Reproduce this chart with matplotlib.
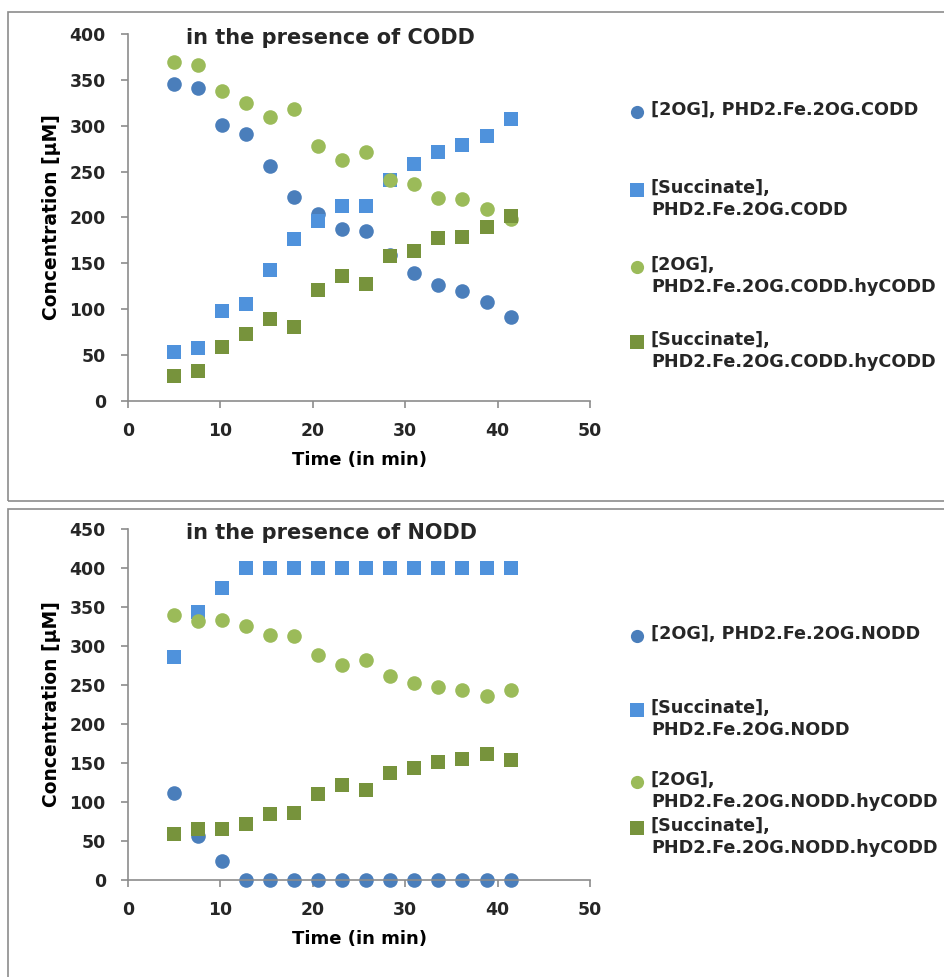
import matplotlib.pyplot as plt
from matplotlib.patches import Rectangle
from matplotlib.lines import Line2D

plt.rcParams['font.family'] = ['DejaVu Sans']
plt.rcParams['font.weight'] = 'bold'

# sampling times (min)
t = [5.0, 7.6, 10.2, 12.8, 15.4, 18.0, 20.6, 23.2, 25.8, 28.4, 31.0, 33.6, 36.2, 38.8, 41.4]

# CODD panel
codd_2og = [345, 341, 301, 291, 256, 222, 204, 187, 185, 159, 139, 126, 120, 108, 92]
codd_succ = [53, 58, 98, 106, 143, 177, 196, 212, 213, 241, 258, 271, 279, 289, 307]
codd_2og_hy = [370, 366, 338, 325, 310, 318, 278, 263, 271, 241, 236, 221, 220, 209, 198]
codd_succ_hy = [27, 33, 59, 73, 89, 81, 121, 136, 128, 158, 163, 178, 179, 190, 202]

# NODD panel
nodd_2og = [112, 56, 24, 0, 0, 0, 0, 0, 0, 0, 0, 0, 0, 0, 0]
nodd_succ = [286, 343, 375, 400, 400, 400, 400, 400, 400, 400, 400, 400, 400, 400, 400]
nodd_2og_hy = [340, 332, 333, 326, 314, 313, 289, 276, 282, 261, 253, 247, 244, 236, 243]
nodd_succ_hy = [59, 66, 65, 72, 84, 86, 110, 122, 116, 137, 144, 151, 155, 162, 154]

codd_labels = ['[2OG], PHD2.Fe.2OG.CODD',
               '[Succinate],\nPHD2.Fe.2OG.CODD',
               '[2OG],\nPHD2.Fe.2OG.CODD.hyCODD',
               '[Succinate],\nPHD2.Fe.2OG.CODD.hyCODD']
nodd_labels = ['[2OG], PHD2.Fe.2OG.NODD',
               '[Succinate],\nPHD2.Fe.2OG.NODD',
               '[2OG],\nPHD2.Fe.2OG.NODD.hyCODD',
               '[Succinate],\nPHD2.Fe.2OG.NODD.hyCODD']

colors = ['#4a7ebb', '#4f92dc', '#9bbb59', '#77933c']
markers = ['o', 's', 'o', 's']
sizes = [10.5, 9.5, 10.5, 9.5]

W, H = 944, 977
fig = plt.figure(figsize=(W / 100, H / 100), dpi=100)

# panel frames
fig.patches.append(Rectangle((8 / W, 1 - 501 / H), 960 / W, 489 / H, transform=fig.transFigure,
                             fill=False, edgecolor='#8c8c8c', lw=1.2))
fig.patches.append(Rectangle((8 / W, -10 / H), 960 / W, (977 - 509 + 10) / H, transform=fig.transFigure,
                             fill=False, edgecolor='#8c8c8c', lw=1.2))


def panel(rect, series, labels, ymax, title, leg_y):
    ax = fig.add_axes(rect)
    for y, c, m, ms in zip(series, colors, markers, sizes):
        ax.plot(t, y, linestyle='none', marker=m, color=c, markersize=ms, markeredgewidth=0, clip_on=False)
    ax.set_xlim(0, 50)
    ax.set_ylim(0, ymax)
    ax.set_xticks(range(0, 51, 10))
    ax.set_yticks(range(0, ymax + 1, 50))
    for s in ['top', 'right']:
        ax.spines[s].set_visible(False)
    for s in ['left', 'bottom']:
        ax.spines[s].set_color('#8c8c8c')
        ax.spines[s].set_linewidth(1.2)
    ax.tick_params(colors='#8c8c8c', labelcolor='#262626', labelsize=12.4, length=5, width=1.2)
    ax.tick_params(axis='x', pad=10)
    ax.tick_params(axis='y', pad=11)
    ax.set_xlabel('Time (in min)', fontsize=13, fontweight='bold', labelpad=8)
    ax.set_ylabel('Concentration [µM]', fontsize=13.5, fontweight='bold', labelpad=6)
    ax.text(0.125, 0.99, title, transform=ax.transAxes, fontsize=15, fontweight='bold', va='center',
            color='#262626')
    # legend drawn beside the axes, marker aligned with the first text line
    for lab, c, m, yy in zip(labels, colors, markers, leg_y):
        fig.add_artist(Line2D([637 / W], [1 - yy / H], marker=m, color=c, markersize=9.5,
                              markeredgewidth=0, linestyle='none', transform=fig.transFigure))
        fig.text(651 / W, 1 - (yy - 11) / H, lab, fontsize=12.7, fontweight='bold', va='top',
                 linespacing=1.27, color='#262626')
    return ax


panel([128 / W, 1 - 401 / H, 462 / W, 367 / H],
      [codd_2og, codd_succ, codd_2og_hy, codd_succ_hy], codd_labels, 400,
      'in the presence of CODD', [112, 190, 267, 342])
panel([128 / W, 1 - 880 / H, 462 / W, 351 / H],
      [nodd_2og, nodd_succ, nodd_2og_hy, nodd_succ_hy], nodd_labels, 450,
      'in the presence of NODD', [636, 710, 782, 828])

fig.savefig('out.png', dpi=100)
